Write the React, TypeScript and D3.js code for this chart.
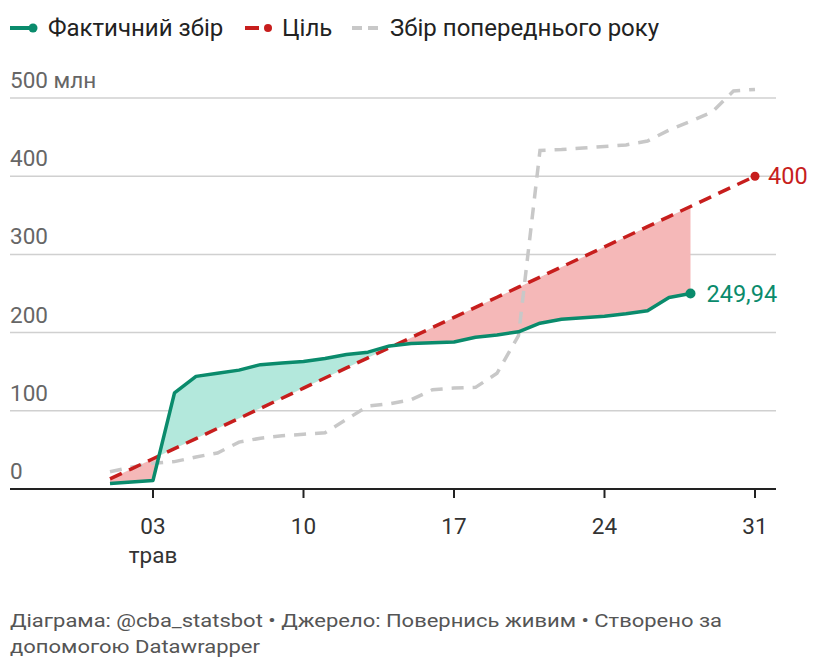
import React from "react";
import * as d3 from "d3";

const days = [1,2,3,4,5,6,7,8,9,10,11,12,13,14,15,16,17,18,19,20,21,22,23,24,25,26,27,28,29,30,31];
const actual = [7,9,11,123,144,148,152,159,161,163,167,172,175,183,186,187,188,194,197,201,212,217,219,221,224,228,245,249.94];
const target = [12.9,25.8,38.7,51.6,64.5,77.4,90.3,103.2,116.1,129,141.9,154.8,167.7,180.6,193.5,206.5,219.4,232.3,245.2,258.1,271,283.9,296.8,309.7,322.6,335.5,348.4,361.3,374.2,387.1,400];
const prevYear = [22,28,33,35,41,46,60,65,68,70,72,89,106,109,114,127,129,130,148,196,433,434,436,438,440,445,459,470,482,509,511];
const yTicks = [0,100,200,300,400,500];
const xTicks = [3,10,17,24,31];
const xTickLabels = ["03","10","17","24","31"];

const GREEN = "#0a8b6c";
const RED = "#c71e1d";
const GRAY = "#c8c8c8";
const FONT = "Roboto, 'Noto Sans', sans-serif";

export default function App() {
  const W = 820, H = 672;
  const x = d3.scaleLinear().domain([1, 31]).range([110, 755]);
  const y = d3.scaleLinear().domain([0, 500]).range([489, 98]);

  const actPts = actual.map((v, i) => ({ d: days[i], v, t: target[i] }));
  const tgtPts = target.map((v, i) => ({ d: days[i], v }));
  const prevPts = prevYear.map((v, i) => ({ d: days[i], v }));

  const line = d3.line<{ d: number; v: number }>().x(p => x(p.d)).y(p => y(p.v));
  const band = d3.area<{ d: number; v: number; t: number }>()
    .x(p => x(p.d)).y0(p => y(p.t)).y1(p => y(p.v));

  const aboveTarget = d3.area<{ d: number; v: number }>()
    .x(p => x(p.d)).y0(0).y1(p => y(p.v));
  const belowTarget = d3.area<{ d: number; v: number }>()
    .x(p => x(p.d)).y0(H).y1(p => y(p.v));

  const last = actPts[actPts.length - 1];
  const lastT = tgtPts[tgtPts.length - 1];

  return (
    <svg width={W} height={H} style={{ position: "absolute", left: 0, top: 0, background: "#fff" }} fontFamily={FONT}>
      <defs>
        <clipPath id="above"><path d={aboveTarget(tgtPts) || ""} /></clipPath>
        <clipPath id="below"><path d={belowTarget(tgtPts) || ""} /></clipPath>
      </defs>

      {/* legend */}
      <g fontSize={24} fill="#222">
        <line x1={10} x2={32} y1={28} y2={28} stroke={GREEN} strokeWidth={4} />
        <circle cx={33} cy={28} r={4.5} fill={GREEN} />
        <text x={48} y={36}>Фактичний збір</text>
        <line x1={245} x2={259} y1={28} y2={28} stroke={RED} strokeWidth={4} />
        <circle cx={268} cy={28} r={4} fill={RED} />
        <text x={282} y={36}>Ціль</text>
        <line x1={352} x2={362} y1={28} y2={28} stroke={GRAY} strokeWidth={4} />
        <line x1={368} x2={378} y1={28} y2={28} stroke={GRAY} strokeWidth={4} />
        <text x={390} y={36}>Збір попереднього року</text>
      </g>

      {/* grid */}
      {yTicks.map(t => (
        <g key={t}>
          {t > 0 && <line x1={10} x2={776} y1={y(t)} y2={y(t)} stroke="#d0d0d0" strokeWidth={1.5} />}
          <text x={10} y={y(t) - 10} fontSize={22.5} fill="#666">{t === 500 ? "500 млн" : String(t)}</text>
        </g>
      ))}

      {/* fills */}
      <path d={band(actPts) || ""} fill="#b3e8dc" clipPath="url(#above)" />
      <path d={band(actPts) || ""} fill="#f5b8b8" clipPath="url(#below)" />

      {/* axis */}
      <line x1={10} x2={776} y1={y(0)} y2={y(0)} stroke="#222" strokeWidth={2} />
      {xTicks.map((t, i) => (
        <g key={t}>
          <line x1={x(t)} x2={x(t)} y1={y(0)} y2={y(0) + 9} stroke="#222" strokeWidth={2} />
          <text x={x(t)} y={534} fontSize={22.5} fill="#333" textAnchor="middle">{xTickLabels[i]}</text>
        </g>
      ))}
      <text x={x(3)} y={563} fontSize={22.5} fill="#333" textAnchor="middle">трав</text>

      {/* lines */}
      <path d={line(prevPts) || ""} fill="none" stroke={GRAY} strokeWidth={3.5} strokeDasharray="12 9" />
      <path d={line(tgtPts) || ""} fill="none" stroke={RED} strokeWidth={3.5} strokeDasharray="13 8" />
      <path d={line(actPts) || ""} fill="none" stroke={GREEN} strokeWidth={3.5} strokeLinejoin="round" />

      <circle cx={x(lastT.d)} cy={y(lastT.v)} r={4.5} fill={RED} />
      <text x={x(lastT.d) + 13} y={y(lastT.v) + 8} fontSize={23.5} fill={RED}>400</text>
      <circle cx={x(last.d)} cy={y(last.v)} r={5} fill={GREEN} />
      <text x={x(last.d) + 16} y={y(last.v) + 8} fontSize={23.5} fill={GREEN}>249,94</text>

      {/* footer */}
      <g fontSize={18} fill="#555">
        <text x={10} y={627} textLength={712} lengthAdjust="spacingAndGlyphs">Діаграма: @cba_statsbot • Джерело: Повернись живим • Створено за</text>
        <text x={10} y={653} textLength={250} lengthAdjust="spacingAndGlyphs">допомогою Datawrapper</text>
      </g>
    </svg>
  );
}
